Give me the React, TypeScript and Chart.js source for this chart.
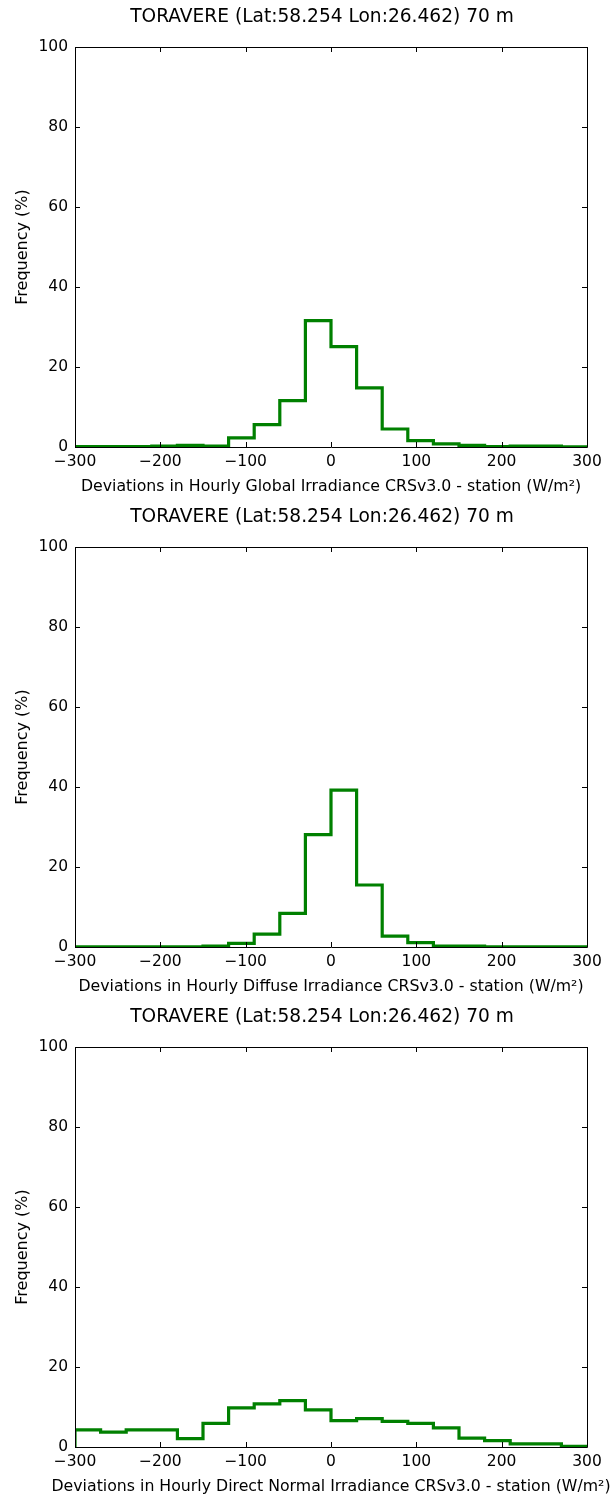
import React, { useEffect, useRef } from "react";
import { Chart, registerables } from "chart.js";

Chart.register(...registerables);

const binEdges = [-300, -270, -240, -210, -180, -150, -120, -90, -60, -30, 0, 30, 60, 90, 120, 150, 180, 210, 240, 270];
const xMax = 300;

const globalFreq = [0.1, 0.1, 0.1, 0.25, 0.4, 0.25, 2.3, 5.6, 11.6, 31.6, 25.1, 14.8, 4.5, 1.6, 0.8, 0.4, 0.1, 0.2, 0.2, 0.05];
const diffuseFreq = [0.05, 0.05, 0.05, 0.05, 0.05, 0.25, 0.9, 3.2, 8.4, 28.1, 39.2, 15.5, 2.7, 1.1, 0.25, 0.25, 0.05, 0.05, 0.05, 0.05];
const directFreq = [4.3, 3.7, 4.3, 4.3, 2.1, 5.9, 9.8, 10.8, 11.6, 9.3, 6.6, 7.1, 6.4, 5.9, 4.8, 2.2, 1.6, 0.8, 0.8, 0.15];

const titleText = "TORAVERE (Lat:58.254 Lon:26.462) 70 m";
const yAxisLabel = "Frequency (%)";
const xAxisLabels = [
  "Deviations in Hourly Global Irradiance CRSv3.0 - station (W/m²)",
  "Deviations in Hourly Diffuse Irradiance CRSv3.0 - station (W/m²)",
  "Deviations in Hourly Direct Normal Irradiance CRSv3.0 - station (W/m²)",
];
const seriesList = [globalFreq, diffuseFreq, directFreq];

const FONT = "'DejaVu Sans', sans-serif";
const W = 613;
const H = 500;

const framePlugin = {
  id: "frameTicks",
  afterDraw(chart: any) {
    const { ctx, chartArea, scales } = chart;
    const { left, right, top, bottom } = chartArea;
    ctx.save();
    ctx.strokeStyle = "#000";
    ctx.lineWidth = 1;
    ctx.beginPath();
    ctx.rect(Math.round(left) + 0.5, Math.round(top) + 0.5, Math.round(right - left), Math.round(bottom - top));
    ctx.stroke();
    const tl = 5;
    ctx.beginPath();
    scales.x.ticks.forEach((t: any) => {
      const px = Math.round(scales.x.getPixelForValue(t.value)) + 0.5;
      ctx.moveTo(px, bottom);
      ctx.lineTo(px, bottom - tl);
      ctx.moveTo(px, top);
      ctx.lineTo(px, top + tl);
    });
    scales.y.ticks.forEach((t: any) => {
      const py = Math.round(scales.y.getPixelForValue(t.value)) + 0.5;
      ctx.moveTo(left, py);
      ctx.lineTo(left + tl, py);
      ctx.moveTo(right, py);
      ctx.lineTo(right - tl, py);
    });
    ctx.stroke();
    ctx.restore();
  },
};

const textPlugin = {
  id: "panelTexts",
  afterDraw(chart: any, _args: any, opts: any) {
    const { ctx, chartArea } = chart;
    ctx.save();
    ctx.fillStyle = "#000";
    ctx.textAlign = "center";
    ctx.textBaseline = "middle";
    ctx.font = `18.6px ${FONT}`;
    ctx.fillText(titleText, 322, 17);
    ctx.font = `15.75px ${FONT}`;
    ctx.fillText(opts.xLabel, (chartArea.left + chartArea.right) / 2, chartArea.bottom + 39.5);
    ctx.restore();
  },
};

function Panel({ values, xLabel }: { values: number[]; xLabel: string }) {
  const ref = useRef<HTMLCanvasElement | null>(null);
  useEffect(() => {
    if (!ref.current) return;
    const points = [{ x: binEdges[0], y: 0 }, ...binEdges.map((e, i) => ({ x: e, y: values[i] })), { x: xMax, y: 0 }];
    const chart = new Chart(ref.current, {
      type: "line",
      data: {
        datasets: [
          {
            data: points,
            borderColor: "#008000",
            borderWidth: 3.2,
            pointRadius: 0,
            stepped: "before",
            fill: false,
            tension: 0,
          },
        ],
      },
      options: {
        responsive: false,
        animation: false,
        layout: { padding: { top: 47, right: 26, left: 0, bottom: 0 } },
        plugins: {
          legend: { display: false },
          tooltip: { enabled: false },
          panelTexts: { xLabel },
        } as any,
        scales: {
          x: {
            type: "linear",
            min: -300,
            max: 300,
            grid: { display: false, drawTicks: false },
            border: { display: false },
            ticks: {
              stepSize: 100,
              padding: 6,
              color: "#000",
              font: { family: FONT, size: 15.5 },
              callback: (v: any) => String(v).replace("-", "\u2212"),
            },
            afterFit: (s: any) => {
              s.height = 53;
            },
          },
          y: {
            min: 0,
            max: 100,
            grid: { display: false, drawTicks: false },
            border: { display: false },
            ticks: {
              stepSize: 20,
              padding: 7,
              color: "#000",
              font: { family: FONT, size: 15.5 },
            },
            title: {
              display: true,
              text: yAxisLabel,
              color: "#000",
              font: { family: FONT, size: 16 },
              padding: { top: 13, bottom: 0 },
            },
            afterFit: (s: any) => {
              s.width = 75;
            },
          },
        },
      },
      plugins: [framePlugin, textPlugin],
    });
    return () => chart.destroy();
  }, [values, xLabel]);
  return <canvas ref={ref} width={W} height={H} style={{ display: "block", width: W, height: H }} />;
}

export default function App() {
  return (
    <div style={{ position: "absolute", left: 0, top: 0, width: W, height: 1501, background: "#fff" }}>
      {seriesList.map((vals, i) => (
        <Panel key={i} values={vals} xLabel={xAxisLabels[i]} />
      ))}
    </div>
  );
}
